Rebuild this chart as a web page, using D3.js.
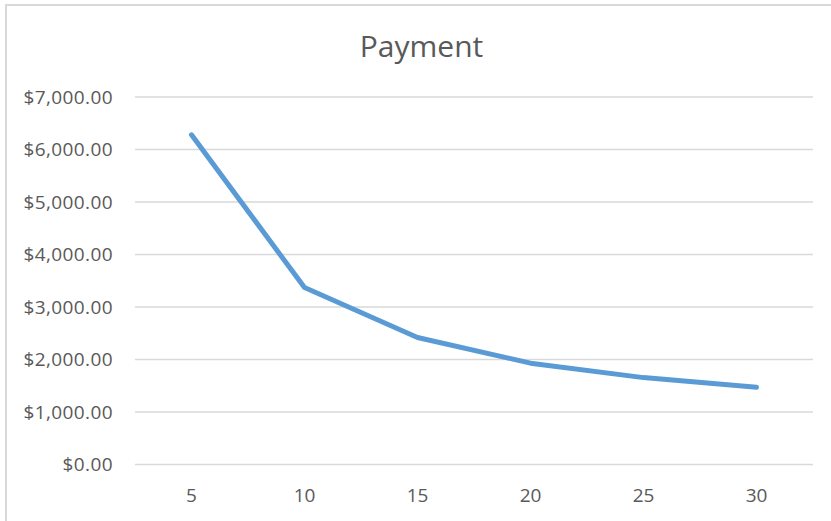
<!DOCTYPE html>
<html>
<head>
<meta charset="utf-8">
<script src="https://cdn.jsdelivr.net/npm/d3@7"></script>
<style>
  body { margin: 0; background: #fff; }
  text { font-family: "Open Sans", "Noto Sans", sans-serif; fill: #595959; }
</style>
</head>
<body>
<div id="chart"></div>
<script>
// Loan term (years) and monthly payment
const years = [5, 10, 15, 20, 25, 30];
const payments = [6280, 3370, 2420, 1930, 1655, 1470];
const yTicks = [0, 1000, 2000, 3000, 4000, 5000, 6000, 7000];

const width = 831, height = 521;
const margins = {top: 97, right: 18, bottom: 56.5, left: 135};

const svg = d3.select("#chart")
  .append("svg")
    .attr("width", width)
    .attr("height", height)
    .attr("viewBox", [0, 0, width, height]);

// chart frame (only top and left edges visible)
svg.append("path")
  .attr("d", `M6,${height} V5 H${width}`)
  .attr("fill", "none")
  .attr("stroke", "#d9d9d9")
  .attr("stroke-width", 2);

const xScale = d3.scaleBand()
  .domain(years)
  .range([margins.left, width - margins.right]);

const yScale = d3.scaleLinear()
  .domain([0, 7000])
  .range([height - margins.bottom, margins.top]);

// gridlines
svg.append("g")
  .selectAll("line")
  .data(yTicks)
  .join("line")
    .attr("x1", margins.left)
    .attr("x2", width - margins.right)
    .attr("y1", d => yScale(d))
    .attr("y2", d => yScale(d))
    .attr("stroke", "#d9d9d9")
    .attr("stroke-width", 1.3);

// y labels
const fmt = d3.format("$,.2f");
svg.append("g")
  .selectAll("text")
  .data(yTicks)
  .join("text")
    .attr("x", 113)
    .attr("y", d => yScale(d))
    .attr("dy", "0.35em")
    .attr("text-anchor", "end")
    .attr("font-size", 19)
    .attr("letter-spacing", 0.4)
    .text(d => fmt(d));

// x labels
svg.append("g")
  .selectAll("text")
  .data(years)
  .join("text")
    .attr("x", d => xScale(d) + xScale.bandwidth() / 2)
    .attr("y", 495)
    .attr("dy", "0.35em")
    .attr("text-anchor", "middle")
    .attr("font-size", 19)
    .text(d => d);

// line
const line = d3.line()
  .x((d, i) => xScale(years[i]) + xScale.bandwidth() / 2)
  .y(d => yScale(d));

svg.append("path")
  .datum(payments)
  .attr("d", line)
  .attr("fill", "none")
  .attr("stroke", "#5b9bd5")
  .attr("stroke-width", 5)
  .attr("stroke-linecap", "round")
  .attr("stroke-linejoin", "round");

// title
svg.append("text")
  .attr("x", 421.5)
  .attr("y", 57)
  .attr("text-anchor", "middle")
  .attr("font-size", 30)
  .text("Payment");
</script>
</body>
</html>
